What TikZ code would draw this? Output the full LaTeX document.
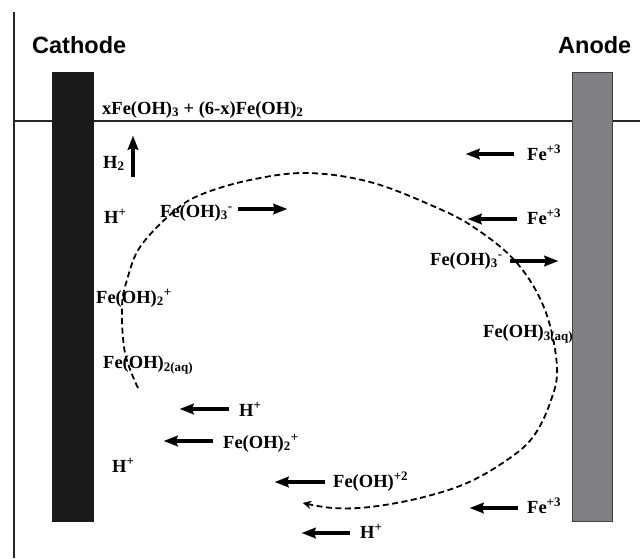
\documentclass[tikz,border=0pt]{standalone}
\usepackage{fontspec}
\setmainfont{Liberation Serif}
\newfontfamily\hfont{Liberation Sans}
\usetikzlibrary{arrows.meta}
\definecolor{anodegray}{RGB}{128,128,133}
\definecolor{cathodeblack}{RGB}{26,26,26}
\begin{document}
\begin{tikzpicture}[x=1pt,y=-1pt,
  lbl/.style={font=\fontsize{18.5}{22}\selectfont\bfseries, inner sep=0pt, anchor=base west},
  head/.style={font=\hfont\fontsize{23.5}{28}\selectfont\bfseries, inner sep=0pt, anchor=base west},
  flow/.style={line width=3.8pt, -{Stealth[length=14pt,width=11pt,inset=2pt,line width=0.1pt]}},
  cycle/.style={line width=1.8pt, dash pattern=on 6pt off 3.5pt, -{Stealth[length=8pt,width=8pt,line width=0.1pt]}},
  wall/.style={line width=2.2pt, black!85},
]
\useasboundingbox (0,0) rectangle (640,558);
% walls
\coordinate (wt) at (14,12);
\coordinate (wb) at (14,558);
\coordinate (sl) at (14,121);
\coordinate (sr) at (640,121);
\draw[wall] (wt) -- (wb);
\draw[wall] (sl) -- (sr);
% electrodes
\node[draw=none, fill=cathodeblack, minimum width=42pt, minimum height=450pt, inner sep=0pt, anchor=north west] (cathode) at (52,72) {};
\node[draw=black!75, line width=0.8pt, fill=anodegray, minimum width=40pt, minimum height=449pt, inner sep=0pt, anchor=north west] (anode) at (572,72) {};
\node[head] (cat) at (32,53) {Cathode};
\node[head] (ano) at (558,53) {Anode};
% labels
\node[lbl] (sludge) at (102,114) {xFe(OH)\textsubscript{3} + (6-x)Fe(OH)\textsubscript{2}};
\node[lbl] (h2) at (103,168) {H\textsubscript{2}};
\node[lbl] (hp1) at (104,223) {H\textsuperscript{+}};
\node[lbl] (feoh3m1) at (160,217) {Fe(OH)\textsubscript{3}\textsuperscript{-}};
\node[lbl] (feoh2p1) at (96,303) {Fe(OH)\textsubscript{2}\textsuperscript{+}};
\node[lbl] (feoh2aq) at (103,368) {Fe(OH)\textsubscript{2(aq)}};
\node[lbl] (hp2) at (239,416) {H\textsuperscript{+}};
\node[lbl] (feoh2p2) at (223,448) {Fe(OH)\textsubscript{2}\textsuperscript{+}};
\node[lbl] (hp3) at (112,472) {H\textsuperscript{+}};
\node[lbl] (feohp2) at (333,487) {Fe(OH)\textsuperscript{+2}};
\node[lbl] (hp4) at (360,538) {H\textsuperscript{+}};
\node[lbl] (fe3a) at (527,160) {Fe\textsuperscript{+3}};
\node[lbl] (fe3b) at (527,224) {Fe\textsuperscript{+3}};
\node[lbl] (fe3c) at (527,513) {Fe\textsuperscript{+3}};
\node[lbl] (feoh3m2) at (430,265) {Fe(OH)\textsubscript{3}\textsuperscript{-}};
\node[lbl] (feoh3aq) at (483,337) {Fe(OH)\textsubscript{3(aq)}};
% arrow end points
\coordinate (h2s) at (133,177);   \coordinate (h2e) at (133,136);
\coordinate (a1s) at (238,209);   \coordinate (a1e) at (287,209);
\coordinate (a2s) at (229,409);   \coordinate (a2e) at (180,409);
\coordinate (a3s) at (213,441);   \coordinate (a3e) at (164,441);
\coordinate (a4s) at (325,482);   \coordinate (a4e) at (275,482);
\coordinate (a5s) at (350,533);   \coordinate (a5e) at (302,533);
\coordinate (a6s) at (518,508);   \coordinate (a6e) at (470,508);
\coordinate (a7s) at (514,154);   \coordinate (a7e) at (466,154);
\coordinate (a8s) at (517,219);   \coordinate (a8e) at (468,219);
\coordinate (a9s) at (510,261);   \coordinate (a9e) at (558,261);
\foreach \s/\e in {h2s/h2e,a1s/a1e,a2s/a2e,a3s/a3e,a4s/a4e,a5s/a5e,a6s/a6e,a7s/a7e,a8s/a8e,a9s/a9e}
  \draw[flow] (\s) -- (\e);
% cycle path
\draw[cycle] plot[smooth, tension=0.6] coordinates {
  (138,388) (125,353) (122,307) (127,280) (140,247) (172,213) (200,195)
  (250,180) (307,173) (370,182) (433,206) (475,228) (517,263) (545,310)
  (557,367) (550,403) (533,437) (507,460) (467,483) (420,498) (370,507)
  (333,508) (303,503)};
\end{tikzpicture}
\end{document}
